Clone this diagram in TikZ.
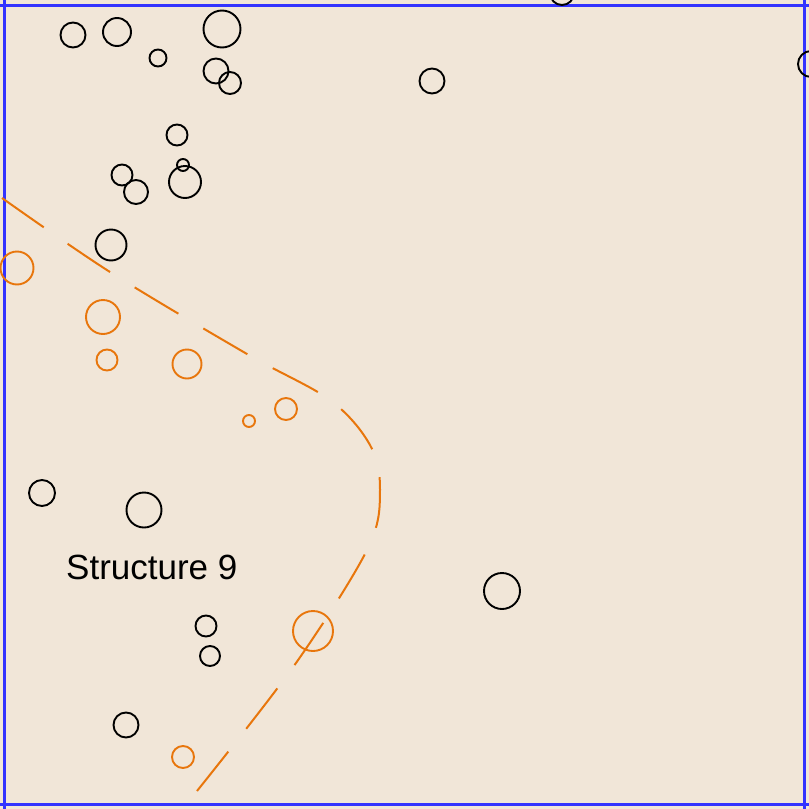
\documentclass[tikz,border=0pt]{standalone}
\usepackage{fontspec}
\setmainfont{Liberation Sans}
\definecolor{bgc}{RGB}{241,230,216}
\definecolor{frameblue}{RGB}{51,51,255}
\definecolor{orng}{RGB}{232,118,12}
\begin{document}
\begin{tikzpicture}[x=1pt,y=-1pt,
  blk/.style={circle,draw=black,line width=1.9pt,inner sep=0pt,minimum size=#1},
  org/.style={circle,draw=orng,line width=1.9pt,inner sep=0pt,minimum size=#1},
  frm/.style={draw=frameblue,line width=3pt},
  trail/.style={draw=orng,line width=2pt,dash pattern=on 51pt off 29pt}]
\fill[bgc] (0,0) rectangle (809,809);
\useasboundingbox (0,0) rectangle (809,809);
% frame lines
\coordinate (fl1) at (4,0); \coordinate (fl2) at (4,809);
\coordinate (fr1) at (804,0); \coordinate (fr2) at (804,809);
\coordinate (ft1) at (0,5); \coordinate (ft2) at (809,5);
\coordinate (fb1) at (0,804); \coordinate (fb2) at (809,804);
\draw[frm] (fl1) -- (fl2);
\draw[frm] (fr1) -- (fr2);
\draw[frm] (ft1) -- (ft2);
\draw[frm] (fb1) -- (fb2);
% dashed curve
\draw[trail] plot[smooth,tension=0.55] coordinates {(2,198) (110,272) (247,354) (330,400) (370,445) (380,490) (368,548) (296,663) (197,791)};
% black circles
\node[blk=25pt] (b1) at (73,35) {};
\node[blk=28pt] (b2) at (117,32) {};
\node[blk=17pt] (b3) at (158,58) {};
\node[blk=37pt] (b4) at (222,29) {};
\node[blk=25pt] (b5) at (216,71) {};
\node[blk=22pt] (b6) at (230,83) {};
\node[blk=21pt] (b7) at (177,135) {};
\node[blk=12pt] (b8) at (183,165) {};
\node[blk=32pt] (b9) at (185,182) {};
\node[blk=21pt] (b10) at (122,175) {};
\node[blk=24pt] (b11) at (136,192) {};
\node[blk=31pt] (b12) at (111,245) {};
\node[blk=25pt] (b13) at (432,81) {};
\node[blk=24pt] (b14) at (562,-7) {};
\node[blk=26pt] (b15) at (811,64) {};
\node[blk=26pt] (b16) at (42,493) {};
\node[blk=35pt] (b17) at (144,510) {};
\node[blk=21pt] (b18) at (206,626) {};
\node[blk=20pt] (b19) at (210,656) {};
\node[blk=25pt] (b20) at (126,725) {};
\node[blk=36pt] (b21) at (502,591) {};
% orange circles
\node[org=33pt] (o1) at (17,268) {};
\node[org=34pt] (o2) at (103,317) {};
\node[org=21pt] (o3) at (107,360) {};
\node[org=29pt] (o4) at (187,364) {};
\node[org=22pt] (o5) at (286,409) {};
\node[org=12pt] (o6) at (249,421) {};
\node[org=40pt] (o7) at (313,631) {};
\node[org=22pt] (o8) at (183,757) {};
% label
\node[anchor=base west,inner sep=0pt,font=\fontsize{35}{40}\selectfont] (lbl) at (66,579) {Structure 9};
\end{tikzpicture}
\end{document}
